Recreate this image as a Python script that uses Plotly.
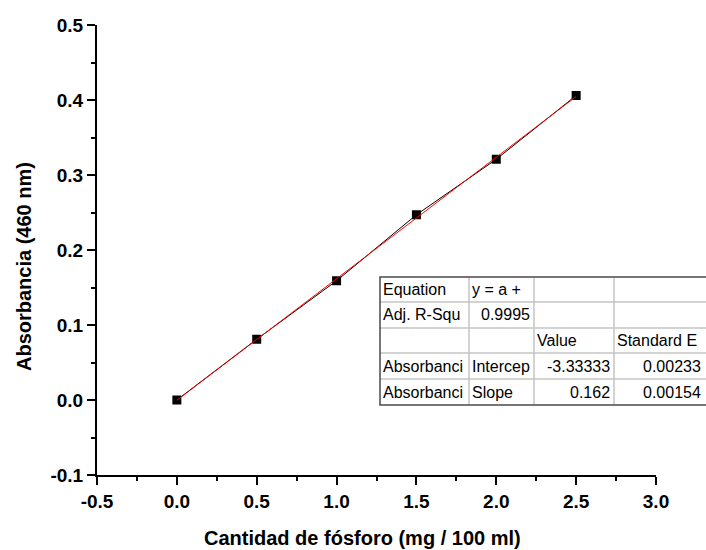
import plotly.graph_objects as go

# Calibration data: phosphorus amount vs absorbance at 460 nm
fosforo = [0.0, 0.5, 1.0, 1.5, 2.0, 2.5]
absorbancia = [0.0, 0.081, 0.159, 0.247, 0.321, 0.406]

# Linear fit parameters (y = a + b*x)
intercepto = -3.33333e-4
pendiente = 0.162

# Axis tick values and labels
x_ticks = [-0.5, 0.0, 0.5, 1.0, 1.5, 2.0, 2.5, 3.0]
x_labels = ["-0.5", "0.0", "0.5", "1.0", "1.5", "2.0", "2.5", "3.0"]
y_ticks = [-0.1, 0.0, 0.1, 0.2, 0.3, 0.4, 0.5]
y_labels = ["-0.1", "0.0", "0.1", "0.2", "0.3", "0.4", "0.5"]

# Fit summary table contents
tabla_filas = [
    ["Equation", "y = a +", "", ""],
    ["Adj. R-Squ", "0.9995", "", ""],
    ["", "", "Value", "Standard E"],
    ["Absorbanci", "Intercep", "-3.33333", "0.00233"],
    ["Absorbanci", "Slope", "0.162", "0.00154"],
]

W, H = 706, 550
ML, MR, MT, MB = 97, 50, 25, 75
PW, PH = W - ML - MR, H - MT - MB


def px(xp):
    return (xp - ML) / PW


def py(yp):
    return (H - MB - yp) / PH


FONT = "Liberation Sans, Arial, sans-serif"

fig = go.Figure()

fig.add_trace(go.Scatter(
    x=fosforo, y=absorbancia, mode="lines+markers",
    line=dict(color="black", width=1),
    marker=dict(symbol="square", size=9, color="black"),
    showlegend=False,
))

x_fit = [fosforo[0], fosforo[-1]]
y_fit = [intercepto + pendiente * v for v in x_fit]
fig.add_trace(go.Scatter(
    x=x_fit, y=y_fit, mode="lines",
    line=dict(color="#ff0000", width=1),
    showlegend=False,
))

axis_common = dict(
    showline=True, linecolor="black", linewidth=2,
    ticks="outside", ticklen=8, tickwidth=2, tickcolor="black",
    showgrid=False, zeroline=False, mirror=False,
    tickfont=dict(family=FONT, size=19, color="black"),
    tickmode="array",
)

fig.update_xaxes(range=[-0.5, 3.0],
                 tickvals=x_ticks, ticktext=[f"<b>{t}</b>" for t in x_labels],
                 minor=dict(dtick=0.25, tick0=0, ticks="outside", ticklen=4,
                            tickwidth=2, tickcolor="black"),
                 **axis_common)
fig.update_yaxes(range=[-0.1, 0.5],
                 tickvals=y_ticks, ticktext=[f"<b>{t}</b>" for t in y_labels],
                 minor=dict(dtick=0.05, tick0=0, ticks="outside", ticklen=4,
                            tickwidth=2, tickcolor="black"),
                 **axis_common)

annotations = []
shapes = []

# Axis titles
annotations.append(dict(
    text="<b>Cantidad de fósforo (mg / 100 ml)</b>",
    xref="paper", yref="paper", x=px(362), y=py(538),
    xanchor="center", yanchor="middle", showarrow=False,
    font=dict(family=FONT, size=20, color="black"),
))
annotations.append(dict(
    text="<b>Absorbancia (460 nm)</b>",
    xref="paper", yref="paper", x=px(24), y=py(267),
    xanchor="center", yanchor="middle", showarrow=False, textangle=-90,
    font=dict(family=FONT, size=20, color="black"),
))

# Fit table drawn with shapes and text annotations
col_edges = [380, 469, 534, 614, 720]
row_edges = [277, 302, 328, 353, 379, 405]
grid_col = "#c4c4c4"
for xe in col_edges[1:-1]:
    shapes.append(dict(type="line", xref="paper", yref="paper",
                       x0=px(xe), x1=px(xe), y0=py(row_edges[0]), y1=py(row_edges[-1]),
                       line=dict(color=grid_col, width=1.5)))
for ye in row_edges[1:-1]:
    shapes.append(dict(type="line", xref="paper", yref="paper",
                       x0=px(col_edges[0]), x1=px(col_edges[-1]), y0=py(ye), y1=py(ye),
                       line=dict(color=grid_col, width=1.5)))
shapes.append(dict(type="rect", xref="paper", yref="paper",
                   x0=px(col_edges[0]), x1=px(col_edges[-1]),
                   y0=py(row_edges[-1]), y1=py(row_edges[0]),
                   line=dict(color="#4a4a4a", width=1.5), fillcolor="rgba(0,0,0,0)"))

# alignment per cell: left-aligned labels, right-aligned numbers
right_cells = {(1, 1), (3, 2), (3, 3), (4, 2), (4, 3)}
for r, fila in enumerate(tabla_filas):
    yc = (row_edges[r] + row_edges[r + 1]) / 2
    for c, txt in enumerate(fila):
        if not txt:
            continue
        if (r, c) in right_cells:
            xa, anchor = col_edges[c + 1] - 2, "right"
            if c == 3:
                xa = 703
        else:
            xa, anchor = col_edges[c] + 1, "left"
        annotations.append(dict(
            text=txt, xref="paper", yref="paper", x=px(xa), y=py(yc),
            xanchor=anchor, yanchor="middle", showarrow=False,
            font=dict(family=FONT, size=16, color="black"),
        ))

fig.update_layout(
    width=W, height=H,
    margin=dict(l=ML, r=MR, t=MT, b=MB, autoexpand=False),
    paper_bgcolor="white", plot_bgcolor="white",
    annotations=annotations, shapes=shapes,
    showlegend=False,
)

fig.write_html("out.html")
